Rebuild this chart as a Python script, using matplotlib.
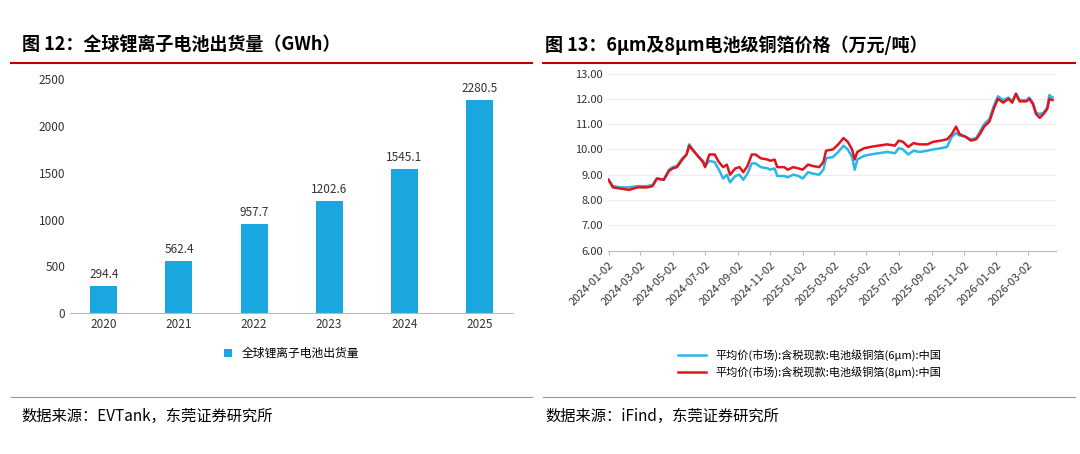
import matplotlib
matplotlib.use("Agg")
import matplotlib.pyplot as plt
import pandas as pd

plt.rcParams['font.family'] = ['Noto Sans CJK SC', 'DejaVu Sans']

years = ['2020', '2021', '2022', '2023', '2024', '2025']
shipments = [294.4, 562.4, 957.7, 1202.6, 1545.1, 2280.5]

dates = ['2024-01-02','2024-01-10','2024-01-25','2024-02-10','2024-02-25','2024-03-02','2024-03-15','2024-03-25',
 '2024-04-02','2024-04-15','2024-04-25','2024-05-02','2024-05-10','2024-05-20','2024-05-28','2024-06-02','2024-06-10',
 '2024-06-20','2024-06-28','2024-07-02','2024-07-10','2024-07-20','2024-07-28','2024-08-05','2024-08-12','2024-08-18',
 '2024-08-28','2024-09-05','2024-09-12','2024-09-20','2024-09-28','2024-10-05','2024-10-15','2024-10-28','2024-11-02',
 '2024-11-10','2024-11-15','2024-11-28','2024-12-05','2024-12-15','2024-12-25','2025-01-02','2025-01-12','2025-01-20',
 '2025-02-02','2025-02-10','2025-02-15','2025-02-28','2025-03-10','2025-03-20','2025-03-28','2025-04-05','2025-04-10',
 '2025-04-15','2025-04-28','2025-05-10','2025-05-25','2025-06-10','2025-06-25','2025-07-02','2025-07-10','2025-07-20',
 '2025-07-30','2025-08-10','2025-08-25','2025-09-05','2025-09-20','2025-10-01','2025-10-10','2025-10-18','2025-10-25',
 '2025-11-05','2025-11-15','2025-11-25','2025-12-02','2025-12-10','2025-12-20','2025-12-28','2026-01-05','2026-01-15',
 '2026-01-25','2026-02-01','2026-02-08','2026-02-15','2026-02-28','2026-03-05','2026-03-12','2026-03-18','2026-03-25',
 '2026-04-01','2026-04-08','2026-04-12','2026-04-18']
price_8um = [8.8,8.5,8.45,8.4,8.5,8.5,8.5,8.55,8.85,8.8,9.15,9.25,9.3,9.6,9.8,10.15,9.95,9.7,9.5,9.3,9.8,9.8,9.5,9.3,
 9.4,9.0,9.25,9.3,9.1,9.35,9.8,9.8,9.65,9.6,9.55,9.6,9.3,9.3,9.2,9.3,9.25,9.2,9.4,9.35,9.3,9.5,9.95,10.0,10.2,10.45,
 10.3,10.0,9.6,9.9,10.05,10.1,10.15,10.2,10.15,10.35,10.3,10.1,10.25,10.2,10.2,10.3,10.35,10.4,10.6,10.9,10.6,10.5,
 10.35,10.4,10.6,10.9,11.1,11.6,12.0,11.85,12.0,11.85,12.2,11.9,11.9,12.0,11.8,11.4,11.25,11.4,11.6,12.0,11.95]
price_6um = [8.8,8.55,8.5,8.5,8.55,8.55,8.55,8.6,8.85,8.8,9.2,9.3,9.35,9.65,9.8,10.2,9.95,9.7,9.55,9.35,9.55,9.5,9.2,
 8.85,9.0,8.7,8.95,9.0,8.8,9.05,9.45,9.45,9.3,9.25,9.2,9.25,8.95,8.95,8.9,9.0,8.95,8.85,9.1,9.05,9.0,9.2,9.65,9.7,9.9,
 10.15,10.0,9.7,9.2,9.6,9.75,9.8,9.85,9.9,9.85,10.05,10.0,9.8,9.95,9.9,9.95,10.0,10.05,10.1,10.5,10.65,10.55,10.5,10.4,
 10.45,10.7,11.0,11.2,11.7,12.1,11.95,12.05,11.9,12.2,11.95,11.95,12.05,11.85,11.45,11.4,11.45,11.65,12.15,12.05]

fig = plt.figure(figsize=(10.8, 4.54), dpi=100)
fig.patch.set_facecolor('white')

fig.text(0.02, 0.9, '图 12：全球锂离子电池出货量（GWh）', fontsize=13, fontweight='bold', va='center')
fig.text(0.505, 0.9, '图 13：6μm及8μm电池级铜箔价格（万元/吨）', fontsize=13, fontweight='bold', va='center')
fig.add_artist(plt.Line2D([0.01, 0.493], [0.862, 0.862], color='#c00000', lw=1.5))
fig.add_artist(plt.Line2D([0.503, 0.995], [0.862, 0.862], color='#c00000', lw=1.5))
fig.add_artist(plt.Line2D([0.01, 0.493], [0.125, 0.125], color='#999999', lw=0.8))
fig.add_artist(plt.Line2D([0.503, 0.995], [0.125, 0.125], color='#999999', lw=0.8))
fig.text(0.02, 0.083, '数据来源：EVTank，东莞证券研究所', fontsize=11, va='center')
fig.text(0.505, 0.083, '数据来源：iFind，东莞证券研究所', fontsize=11, va='center')

ax1 = fig.add_axes([0.065, 0.31, 0.41, 0.515])
bars = ax1.bar(years, shipments, width=0.36, color='#1aa7e0')
for b, v in zip(bars, shipments):
    ax1.text(b.get_x() + b.get_width()/2, v + 50, f'{v}', ha='center', va='bottom', fontsize=8.5, color='#333333')
ax1.set_ylim(0, 2500)
ax1.set_yticks(range(0, 2501, 500))
ax1.tick_params(labelsize=8.5, colors='#333333', length=0)
for s in ['top', 'right', 'left']:
    ax1.spines[s].set_visible(False)
ax1.spines['bottom'].set_color('#bbbbbb')
ax1.legend([bars], ['全球锂离子电池出货量'], loc='upper center', bbox_to_anchor=(0.5, -0.1),
           frameon=False, fontsize=8.5, handlelength=0.7, handleheight=0.7)

ax2 = fig.add_axes([0.563, 0.448, 0.415, 0.39])
d = pd.to_datetime(dates)
ax2.plot(d, price_6um, color='#2bb5e8', lw=1.8, label='平均价(市场):含税现款:电池级铜箔(6μm):中国')
ax2.plot(d, price_8um, color='#e0141e', lw=1.8, label='平均价(市场):含税现款:电池级铜箔(8μm):中国')
ax2.set_ylim(6, 13)
ax2.set_yticks(range(6, 14))
ax2.yaxis.set_major_formatter(matplotlib.ticker.FormatStrFormatter('%.2f'))
ticks = pd.to_datetime(['2024-01-02','2024-03-02','2024-05-02','2024-07-02','2024-09-02','2024-11-02','2025-01-02',
                        '2025-03-02','2025-05-02','2025-07-02','2025-09-02','2025-11-02','2026-01-02','2026-03-02'])
ax2.set_xticks(ticks)
ax2.set_xticklabels([t.strftime('%Y-%m-%d') for t in ticks], rotation=45, ha='right', rotation_mode='anchor')
ax2.set_xlim(pd.Timestamp('2024-01-01'), pd.Timestamp('2026-04-25'))
ax2.grid(axis='y', color='#eeeeee', lw=0.8)
ax2.tick_params(labelsize=8, colors='#333333', length=0)
ax2.tick_params(axis='x', length=3, color='#bbbbbb')
for s in ['top', 'right', 'left']:
    ax2.spines[s].set_visible(False)
ax2.spines['bottom'].set_color('#bbbbbb')
ax2.legend(loc='upper center', bbox_to_anchor=(0.45, -0.5), frameon=False, fontsize=8, handlelength=2.5)

fig.savefig('out.png', dpi=100, facecolor='white')
